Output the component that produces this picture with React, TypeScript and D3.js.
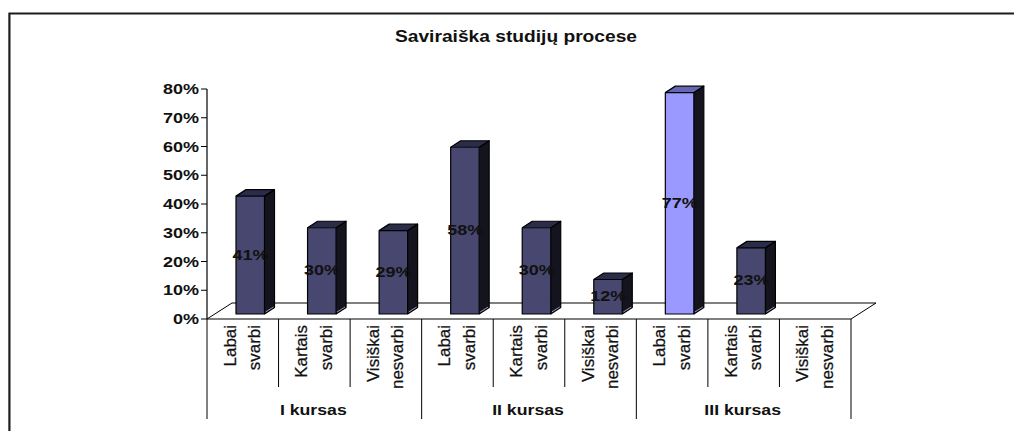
import React from "react";
import * as d3 from "d3";

const groups = ["I kursas", "II kursas", "III kursas"];
const categories = ["Labai svarbi", "Kartais svarbi", "Visiškai nesvarbi"];
const values = [41, 30, 29, 58, 30, 12, 77, 23, 0];
const highlighted = [6];
const ticks = [0, 10, 20, 30, 40, 50, 60, 70, 80];

const W = 1014, H = 431;
const FONT = "Liberation Sans, Arial, sans-serif";
const x0 = 207, x1 = 851, yBase = 319, yTop = 89;
const dxFloor = 25, dyFloor = -16;
const baseOffsetY = -5, barW = 28.5, dxBar = 10, dyBar = -6.5;
const STRETCH = 1.2;

export default function App() {
  const y = d3.scaleLinear().domain([0, 80]).range([yBase, yTop]);
  const band = d3.scaleBand<number>().domain(d3.range(values.length)).range([x0, x1]);
  const bw = band.bandwidth();
  const line = d3.line();
  return (
    <svg width={W} height={H} style={{ position: "absolute", left: 0, top: 0, background: "#fff" }} fontFamily={FONT}>
      <path d="M8.5 431V13" fill="none" stroke="#aaa" strokeWidth={1} />
      <path d="M9.5 431V13.5H1014" fill="none" stroke="#1c1c1c" strokeWidth={2} />
      <text transform={`translate(516,41.5) scale(1.2,1)`} textAnchor="middle" fontSize={16} fontWeight="bold" fill="#111">Saviraiška studijų procese</text>
      {/* floor */}
      <path d={line([[x0, yBase], [x0 + dxFloor, yBase + dyFloor], [x1 + dxFloor, yBase + dyFloor], [x1, yBase]])!} fill="none" stroke="#000" strokeWidth={1} />
      {/* value axis */}
      <path d={line([[x0, yTop], [x0, yBase]])!} fill="none" stroke="#000" strokeWidth={1.2} />
      {ticks.map((t) => (
        <g key={t}>
          <path d={line([[x0 - 6, y(t)], [x0, y(t)]])!} stroke="#000" strokeWidth={1} />
          <text transform={`translate(199,${y(t) + 5}) scale(${STRETCH},1)`} textAnchor="end" fontSize={15} fontWeight="bold" fill="#111">{t}%</text>
        </g>
      ))}
      {/* bars */}
      {values.map((v, i) => {
        if (v === 0) return null;
        const bx = band(i)! + 29;
        const bottom = yBase + baseOffsetY;
        const top = y(v) + baseOffsetY;
        const hi = highlighted.includes(i);
        const front = hi ? "#9999ff" : "#47476f";
        const topFace = hi ? "#6666b3" : "#2b2b4a";
        return (
          <g key={i} stroke="#000" strokeWidth={1.2} strokeLinejoin="round">
            <path d={line([[bx + barW, top], [bx + barW + dxBar, top + dyBar], [bx + barW + dxBar, bottom + dyBar], [bx + barW, bottom]])!} fill="#14141f" />
            <path d={line([[bx, top], [bx + dxBar, top + dyBar], [bx + barW + dxBar, top + dyBar], [bx + barW, top]])!} fill={topFace} />
            <path d={line([[bx + barW + 1, bottom - 2], [bx + barW + dxBar - 1, bottom + dyBar - 0.5]])!} stroke="#9a9ab8" strokeWidth={1} fill="none" />
            <rect x={bx} y={top} width={barW} height={bottom - top} fill={front} />
          </g>
        );
      })}
      {/* value labels */}
      {values.map((v, i) => v === 0 ? null : (
        <text key={i} transform={`translate(${band(i)! + 43.5},${(y(v) + yBase) / 2 - 0.5}) scale(${STRETCH},1)`} textAnchor="middle" fontSize={15} fontWeight="bold" fill="#111">{v}%</text>
      ))}
      {/* category axis */}
      <path d={line([[x0, yBase], [x1, yBase]])!} fill="none" stroke="#000" strokeWidth={1.2} />
      {d3.range(values.length + 1).map((i) => {
        const xx = x0 + i * bw;
        const outer = i % 3 === 0;
        return <path key={i} d={line([[xx, yBase], [xx, outer ? 419 : 387]])!} fill="none" stroke="#000" strokeWidth={1} />;
      })}
      {values.map((_, i) => {
        const [a, b] = categories[i % 3].split(" ");
        const cx = band(i)! + bw / 2;
        return (
          <g key={i} fontSize={16} fill="#111" stroke="#111" strokeWidth={0.25}>
            <text transform={`translate(${cx - 7},325) rotate(-90) scale(1.06,1)`} textAnchor="end">{a}</text>
            <text transform={`translate(${cx + 17.5},325) rotate(-90) scale(1.06,1)`} textAnchor="end">{b}</text>
          </g>
        );
      })}
      {groups.map((g, i) => (
        <text key={g} transform={`translate(${x0 + (i * 3 + 1.5) * bw - 1},415) scale(1.18,1)`} textAnchor="middle" fontSize={15} fontWeight="bold" fill="#111">{g}</text>
      ))}
    </svg>
  );
}
